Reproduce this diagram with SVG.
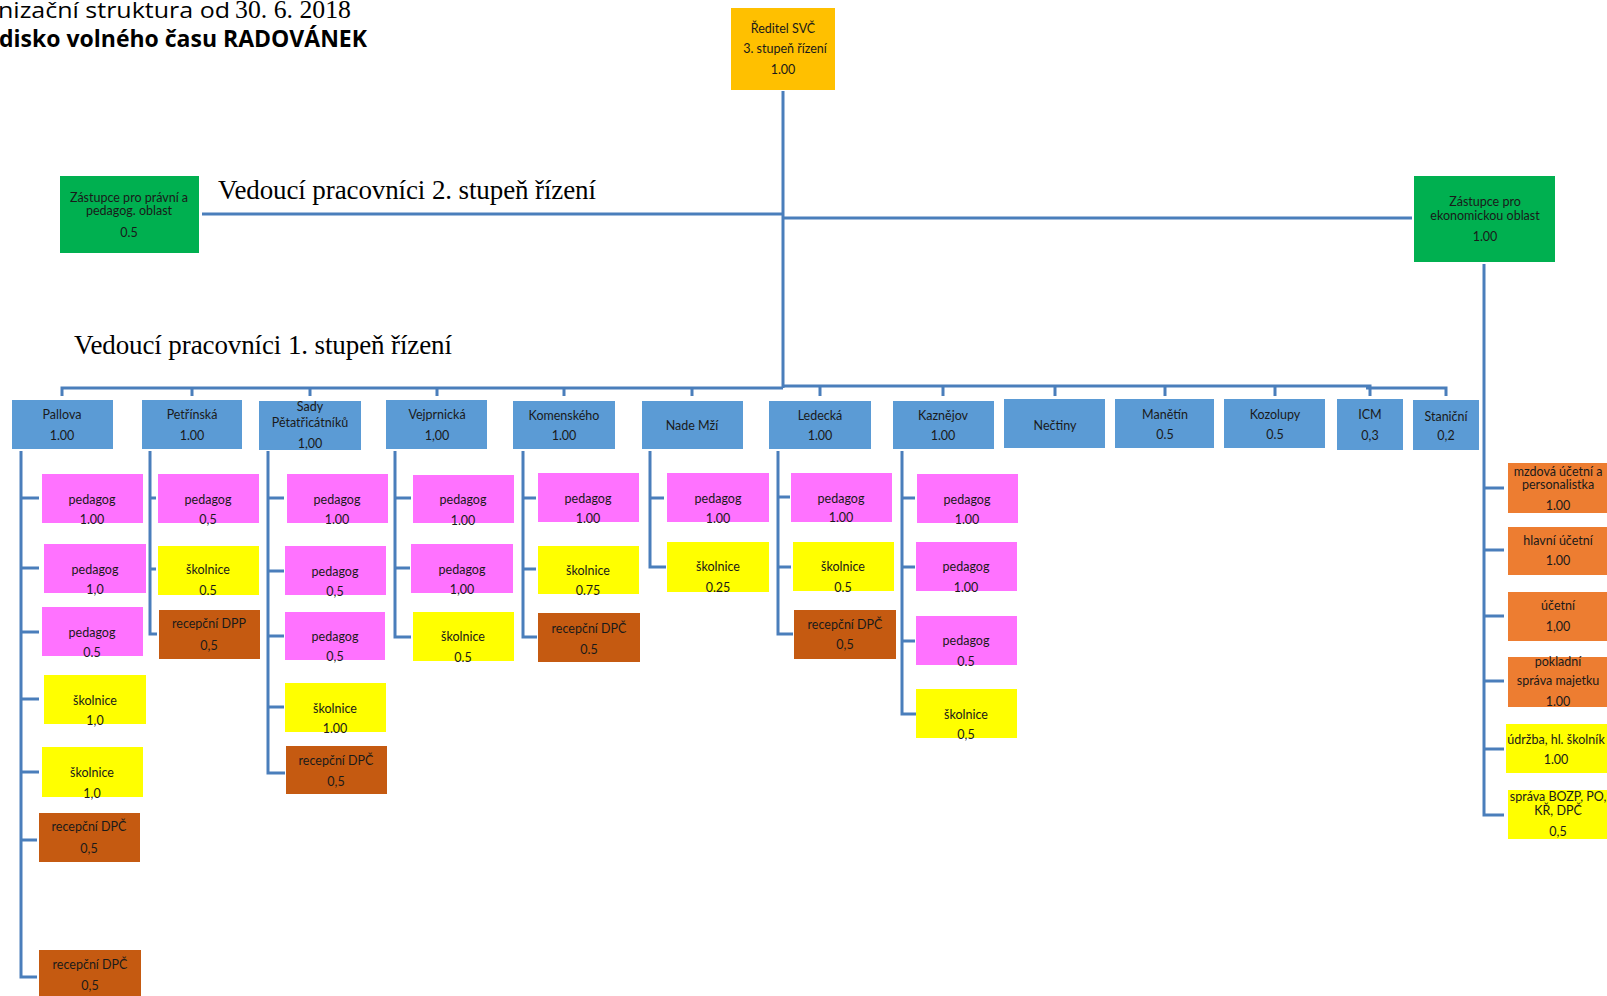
<svg xmlns="http://www.w3.org/2000/svg" width="1607" height="996" viewBox="0 0 1607 996">
<style>
.t{font-family:Lato,'Liberation Sans',sans-serif;font-size:12.5px;fill:#1a1a1a;text-anchor:middle}
.hd{font-family:'Liberation Serif',serif;font-size:27px;fill:#000}
.sr{font-family:'Liberation Serif',serif;font-size:26px;fill:#000}
.ln{stroke:#4A7EBB;stroke-width:3;fill:none}
.bl{fill:#5B9BD5}.mg{fill:#FF72FF}.yw{fill:#FFFF00}.br{fill:#C55A11}.or{fill:#ED7D31}.gr{fill:#00B050}.gd{fill:#FFC000}
</style>
<rect width="1607" height="996" fill="#fff"/>
<g id="title">
<text x="-2" y="18" font-family="'Open Sans',sans-serif" font-size="21" textLength="232" lengthAdjust="spacingAndGlyphs">nizační struktura od</text>
<text class="sr" x="235" y="18" textLength="116" lengthAdjust="spacingAndGlyphs">30. 6. 2018</text>
<text x="-1" y="47" font-family="'Open Sans',sans-serif" font-weight="bold" font-size="23" textLength="368" lengthAdjust="spacingAndGlyphs">disko volného času RADOVÁNEK</text>
</g>
<text class="hd" x="218" y="199" textLength="378">Vedoucí pracovníci 2. stupeň řízení</text>
<text class="hd" x="74" y="354" textLength="378">Vedoucí pracovníci 1. stupeň řízení</text>
<g id="connectors">
<path class="ln" d="M783,91 V388"/>
<path class="ln" d="M202,214 H783"/>
<path class="ln" d="M783,218 H1412"/>
<path class="ln" d="M62,396 V388 H783 M192,388 V396 M310,388 V396 M437,388 V396 M564,388 V396 M692,388 V396"/>
<path class="ln" d="M783,386 H1370 V396 M820,386 V396 M943,386 V396 M1055,386 V396 M1165,386 V396 M1275,386 V396 M1366,388 H1446 V396"/>
<path class="ln" d="M1484,264 V815 H1504 M1484,488 H1504 M1484,550 H1504 M1484,616 H1504 M1484,681 H1504 M1484,749 H1504"/>
<path class="ln" d="M21,451 V977 H37 M21,498 H39 M21,568 H39 M21,632 H39 M21,699 H39 M21,772 H39 M21,840 H37"/>
<path class="ln" d="M150,451 V634 H157 M150,498 H156 M150,569 H156"/>
<path class="ln" d="M268,451 V773 H285 M268,498 H284 M268,571 H284 M268,636 H284 M268,707 H284"/>
<path class="ln" d="M395,451 V637 H411 M395,498 H411 M395,568 H410"/>
<path class="ln" d="M523,451 V637 H537 M523,498 H536 M523,569 H536"/>
<path class="ln" d="M650,451 V567 H666 M650,498 H664"/>
<path class="ln" d="M778,451 V634 H793 M778,497 H790 M778,567 H791"/>
<path class="ln" d="M902,451 V714 H916 M902,498 H915 M902,567 H915 M902,641 H915"/>
</g>
<g id="reditel"><rect class="gd" x="731" y="8" width="104" height="82"/><text class="t" x="783" y="33" font-size="12">Ředitel SVČ</text><text class="t" x="785" y="53" font-size="12">3. stupeň řízení</text><text class="t" x="783" y="74" font-size="12">1.00</text></g>
<g id="zastupce-pp"><rect class="gr" x="60" y="176" width="139" height="77"/><text class="t" x="129" y="202" font-size="12">Zástupce pro právní a</text><text class="t" x="129" y="215" font-size="12">pedagog. oblast</text><text class="t" x="129" y="237" font-size="12">0.5</text></g>
<g id="zastupce-ek"><rect class="gr" x="1414" y="176" width="141" height="86"/><text class="t" x="1485" y="206" font-size="12">Zástupce pro</text><text class="t" x="1485" y="220" font-size="12">ekonomickou oblast</text><text class="t" x="1485" y="241" font-size="12">1.00</text></g>
<g id="pallova"><rect class="bl" x="12" y="400" width="101" height="49"/><text class="t" x="62" y="419">Pallova</text><text class="t" x="62" y="440">1.00</text></g>
<g id="petrinska"><rect class="bl" x="142" y="400" width="100" height="49"/><text class="t" x="192" y="419">Petřínská</text><text class="t" x="192" y="440">1.00</text></g>
<g id="sady"><rect class="bl" x="259" y="401" width="102" height="49"/><text class="t" x="310" y="411">Sady</text><text class="t" x="310" y="427">Pětatřicátníků</text><text class="t" x="310" y="448">1,00</text></g>
<g id="vejprnicka"><rect class="bl" x="386" y="400" width="101" height="49"/><text class="t" x="437" y="419">Vejprnická</text><text class="t" x="437" y="440">1,00</text></g>
<g id="komenskeho"><rect class="bl" x="513" y="401" width="102" height="48"/><text class="t" x="564" y="420">Komenského</text><text class="t" x="564" y="440">1.00</text></g>
<g id="nade-mzi"><rect class="bl" x="642" y="401" width="101" height="48"/><text class="t" x="692" y="430">Nade Mží</text></g>
<g id="ledecka"><rect class="bl" x="769" y="401" width="102" height="48"/><text class="t" x="820" y="420">Ledecká</text><text class="t" x="820" y="440">1.00</text></g>
<g id="kaznejov"><rect class="bl" x="893" y="401" width="101" height="48"/><text class="t" x="943" y="420">Kaznějov</text><text class="t" x="943" y="440">1.00</text></g>
<g id="nectiny"><rect class="bl" x="1004" y="399" width="101" height="49"/><text class="t" x="1055" y="430">Nečtiny</text></g>
<g id="manetin"><rect class="bl" x="1115" y="399" width="99" height="49"/><text class="t" x="1165" y="419">Manětín</text><text class="t" x="1165" y="439">0.5</text></g>
<g id="kozolupy"><rect class="bl" x="1224" y="399" width="101" height="49"/><text class="t" x="1275" y="419">Kozolupy</text><text class="t" x="1275" y="439">0.5</text></g>
<g id="icm"><rect class="bl" x="1337" y="399" width="66" height="51"/><text class="t" x="1370" y="419">ICM</text><text class="t" x="1370" y="440">0,3</text></g>
<g id="stanicni"><rect class="bl" x="1413" y="400" width="66" height="50"/><text class="t" x="1446" y="421">Staniční</text><text class="t" x="1446" y="440">0,2</text></g>
<g id="pallova-1"><rect class="mg" x="42" y="474" width="101" height="49"/><text class="t" x="92" y="504">pedagog</text><text class="t" x="92" y="524">1.00</text></g>
<g id="pallova-2"><rect class="mg" x="44" y="544" width="102" height="49"/><text class="t" x="95" y="574">pedagog</text><text class="t" x="95" y="594">1,0</text></g>
<g id="pallova-3"><rect class="mg" x="42" y="607" width="101" height="49"/><text class="t" x="92" y="637">pedagog</text><text class="t" x="92" y="657">0.5</text></g>
<g id="pallova-4"><rect class="yw" x="44" y="675" width="102" height="49"/><text class="t" x="95" y="705">školnice</text><text class="t" x="95" y="725">1,0</text></g>
<g id="pallova-5"><rect class="yw" x="42" y="747" width="101" height="50"/><text class="t" x="92" y="777">školnice</text><text class="t" x="92" y="798">1,0</text></g>
<g id="pallova-6"><rect class="br" x="39" y="813" width="101" height="49"/><text class="t" x="89" y="831">recepční DPČ</text><text class="t" x="89" y="853">0,5</text></g>
<g id="pallova-7"><rect class="br" x="39" y="950" width="102" height="50"/><text class="t" x="90" y="969">recepční DPČ</text><text class="t" x="90" y="990">0,5</text></g>
<g id="petrinska-1"><rect class="mg" x="158" y="474" width="101" height="49"/><text class="t" x="208" y="504">pedagog</text><text class="t" x="208" y="524">0,5</text></g>
<g id="petrinska-2"><rect class="yw" x="158" y="546" width="101" height="49"/><text class="t" x="208" y="574">školnice</text><text class="t" x="208" y="595">0.5</text></g>
<g id="petrinska-3"><rect class="br" x="159" y="610" width="101" height="49"/><text class="t" x="209" y="628">recepční DPP</text><text class="t" x="209" y="650">0,5</text></g>
<g id="sady-1"><rect class="mg" x="287" y="474" width="101" height="49"/><text class="t" x="337" y="504">pedagog</text><text class="t" x="337" y="524">1.00</text></g>
<g id="sady-2"><rect class="mg" x="285" y="546" width="101" height="49"/><text class="t" x="335" y="576">pedagog</text><text class="t" x="335" y="596">0,5</text></g>
<g id="sady-3"><rect class="mg" x="285" y="612" width="100" height="48"/><text class="t" x="335" y="641">pedagog</text><text class="t" x="335" y="661">0,5</text></g>
<g id="sady-4"><rect class="yw" x="285" y="683" width="101" height="49"/><text class="t" x="335" y="713">školnice</text><text class="t" x="335" y="733">1.00</text></g>
<g id="sady-5"><rect class="br" x="286" y="746" width="101" height="48"/><text class="t" x="336" y="765">recepční DPČ</text><text class="t" x="336" y="786">0,5</text></g>
<g id="vejprnicka-1"><rect class="mg" x="413" y="475" width="101" height="48"/><text class="t" x="463" y="504">pedagog</text><text class="t" x="463" y="525">1.00</text></g>
<g id="vejprnicka-2"><rect class="mg" x="411" y="544" width="102" height="49"/><text class="t" x="462" y="574">pedagog</text><text class="t" x="462" y="594">1,00</text></g>
<g id="vejprnicka-3"><rect class="yw" x="413" y="612" width="101" height="49"/><text class="t" x="463" y="641">školnice</text><text class="t" x="463" y="662">0.5</text></g>
<g id="komenskeho-1"><rect class="mg" x="538" y="473" width="101" height="49"/><text class="t" x="588" y="503">pedagog</text><text class="t" x="588" y="523">1.00</text></g>
<g id="komenskeho-2"><rect class="yw" x="538" y="546" width="101" height="48"/><text class="t" x="588" y="575">školnice</text><text class="t" x="588" y="595">0.75</text></g>
<g id="komenskeho-3"><rect class="br" x="538" y="613" width="102" height="49"/><text class="t" x="589" y="633">recepční DPČ</text><text class="t" x="589" y="654">0.5</text></g>
<g id="nade-mzi-1"><rect class="mg" x="667" y="473" width="102" height="49"/><text class="t" x="718" y="503">pedagog</text><text class="t" x="718" y="523">1.00</text></g>
<g id="nade-mzi-2"><rect class="yw" x="667" y="542" width="102" height="50"/><text class="t" x="718" y="571">školnice</text><text class="t" x="718" y="592">0.25</text></g>
<g id="ledecka-1"><rect class="mg" x="791" y="473" width="101" height="49"/><text class="t" x="841" y="503">pedagog</text><text class="t" x="841" y="522">1.00</text></g>
<g id="ledecka-2"><rect class="yw" x="793" y="542" width="101" height="49"/><text class="t" x="843" y="571">školnice</text><text class="t" x="843" y="592">0.5</text></g>
<g id="ledecka-3"><rect class="br" x="794" y="610" width="102" height="49"/><text class="t" x="845" y="629">recepční DPČ</text><text class="t" x="845" y="649">0,5</text></g>
<g id="kaznejov-1"><rect class="mg" x="917" y="474" width="101" height="49"/><text class="t" x="967" y="504">pedagog</text><text class="t" x="967" y="524">1.00</text></g>
<g id="kaznejov-2"><rect class="mg" x="916" y="542" width="101" height="49"/><text class="t" x="966" y="571">pedagog</text><text class="t" x="966" y="592">1.00</text></g>
<g id="kaznejov-3"><rect class="mg" x="916" y="616" width="101" height="49"/><text class="t" x="966" y="645">pedagog</text><text class="t" x="966" y="666">0.5</text></g>
<g id="kaznejov-4"><rect class="yw" x="916" y="689" width="101" height="49"/><text class="t" x="966" y="719">školnice</text><text class="t" x="966" y="739">0,5</text></g>
<g id="ek-1"><rect class="or" x="1508" y="463" width="102" height="50"/><text class="t" x="1558" y="476">mzdová účetní a</text><text class="t" x="1558" y="489">personalistka</text><text class="t" x="1558" y="510">1.00</text></g>
<g id="ek-2"><rect class="or" x="1508" y="527" width="102" height="48"/><text class="t" x="1558" y="545">hlavní účetní</text><text class="t" x="1558" y="565">1.00</text></g>
<g id="ek-3"><rect class="or" x="1508" y="592" width="102" height="49"/><text class="t" x="1558" y="610">účetní</text><text class="t" x="1558" y="631">1,00</text></g>
<g id="ek-4"><rect class="or" x="1508" y="657" width="102" height="50"/><text class="t" x="1558" y="666">pokladní</text><text class="t" x="1558" y="685">správa majetku</text><text class="t" x="1558" y="706">1.00</text></g>
<g id="ek-5"><rect class="yw" x="1506" y="724" width="104" height="49"/><text class="t" x="1556" y="744">údržba, hl. školník</text><text class="t" x="1556" y="764">1.00</text></g>
<g id="ek-6"><rect class="yw" x="1508" y="790" width="102" height="49"/><text class="t" x="1558" y="801">správa BOZP, PO,</text><text class="t" x="1558" y="815">KŘ, DPČ</text><text class="t" x="1558" y="836">0,5</text></g>
</svg>
